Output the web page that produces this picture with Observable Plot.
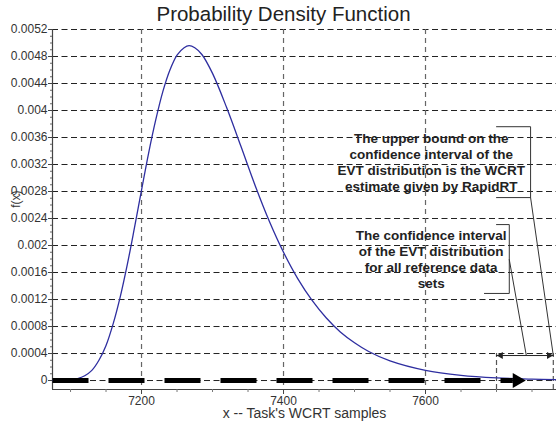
<!DOCTYPE html>
<html>
<head>
<meta charset="utf-8">
<script src="https://cdn.jsdelivr.net/npm/d3@7"></script>
<script src="https://cdn.jsdelivr.net/npm/@observablehq/plot@0.6"></script>
<style>
  html, body { margin: 0; padding: 0; background: #fff; }
  svg { display: block; }
</style>
</head>
<body>
<div id="chart"></div>
<script>
// ---- data ----
const title = "Probability Density Function";
const xLabel = "x -- Task's WCRT samples";
const yLabel = "f(x)";

const pdfX = [7075, 7090, 7100, 7110, 7120, 7130, 7140, 7150, 7160, 7170, 7180, 7190, 7200, 7210, 7220, 7230, 7240, 7250, 7260, 7267, 7275, 7285, 7300, 7320, 7340, 7360, 7380, 7400, 7420, 7440, 7460, 7480, 7500, 7520, 7550, 7600, 7650, 7700, 7750, 7785];
const pdfY = [0, 0.000003, 0.00001, 0.000028, 0.00007, 0.00015, 0.0003, 0.00052, 0.00084, 0.00124, 0.00172, 0.00226, 0.00282, 0.00337, 0.00386, 0.00428, 0.0046, 0.00482, 0.00493, 0.00496, 0.00493, 0.00483, 0.00455, 0.00404, 0.00347, 0.00289, 0.00236, 0.0019, 0.00151, 0.00119, 0.00093, 0.00072, 0.00056, 0.00043, 0.00029, 0.00015, 0.000077, 0.000039, 0.00002, 0.000012];

const xMajorTicks = [7200, 7400, 7600];
const xMinorTicks = [7100, 7150, 7250, 7300, 7350, 7450, 7500, 7550, 7650, 7700, 7750];
const yTicks = [0, 0.0004, 0.0008, 0.0012, 0.0016, 0.002, 0.0024, 0.0028, 0.0032, 0.0036, 0.004, 0.0044, 0.0048, 0.0052];
const yMinorTicks = [0.0001, 0.0002, 0.0003, 0.0005, 0.0006, 0.0007, 0.0009, 0.001, 0.0011, 0.0013, 0.0014, 0.0015, 0.0017, 0.0018, 0.0019, 0.0021, 0.0022, 0.0023, 0.0025, 0.0026, 0.0027, 0.0029, 0.003, 0.0031, 0.0033, 0.0034, 0.0035, 0.0037, 0.0038, 0.0039, 0.0041, 0.0042, 0.0043, 0.0045, 0.0046, 0.0047, 0.0049, 0.005, 0.0051];

// confidence interval (x range) and the thick sample band along y = 0
const ciX = [7700, 7780];
const ciTop = 0.0004;
const bandStart = 7074.6;
const bandEnd = 7723;
const bandArrowX = 7729;
const ciArrowY = 0.00037;

// annotations
const note1 = "The upper bound on the\nconfidence interval of the\nEVT distribution is the WCRT\nestimate given by RapidRT";
const note2 = "The confidence interval\nof the EVT distribution\nfor all reference data\nsets";
const note1Pos = [7608, 0.003237];
const note2Pos = [7608, 0.0018];
const bracket1 = [[7700, 0.00376], [7748, 0.00376], [7748, 0.00271], [7700, 0.00271]];
const leader1 = [[7748, 0.00271], [7780, 0.00037]];
const bracket2 = [[7700, 0.00231], [7718, 0.00231], [7718, 0.00129], [7683, 0.00129]];
const leader2 = [[7718, 0.00179], [7742, 0.00037]];

// ---- build ----
const xDomain = [7074.6, 7784.5];
const yDomain = [-0.000133, 0.0052];
const pdf = pdfX.map((x, i) => ({x, y: pdfY[i]}));
const font = "'Liberation Sans', Arial, sans-serif";

const chart = Plot.plot({
  width: 556,
  height: 424,
  marginLeft: 52,
  marginRight: 0,
  marginTop: 29,
  marginBottom: 35,
  style: {fontFamily: font, background: "#fff", overflow: "visible"},
  x: {domain: xDomain, axis: null},
  y: {domain: yDomain, axis: null},
  marks: [
    // grid
    Plot.gridY(yTicks, {stroke: "#222", strokeOpacity: 1, strokeDasharray: "6,3.5", strokeWidth: 1}),
    Plot.gridX(xMajorTicks, {stroke: "#666", strokeOpacity: 1, strokeDasharray: "5,4", strokeWidth: 1.2}),
    Plot.ruleX(ciX, {y1: yDomain[0], y2: ciTop, stroke: "#555", strokeDasharray: "5,3", strokeWidth: 1.2}),
    // axes lines
    Plot.ruleX([xDomain[0]], {stroke: "#444", strokeWidth: 1.2}),
    Plot.ruleY([yDomain[0]], {stroke: "#444", strokeWidth: 1.2}),
    // ticks + labels
    Plot.axisY(yTicks, {label: null, tickSize: 4, tickPadding: 1, fontSize: 12, color: "#333", stroke: "#444", tickFormat: d => String(d)}),
    Plot.axisY(yMinorTicks, {label: null, tickSize: 2, text: null, stroke: "#666"}),
    Plot.axisX(xMajorTicks, {label: null, tickSize: 5, tickPadding: 2, fontSize: 12, color: "#333", stroke: "#444", tickFormat: d => String(d)}),
    Plot.axisX(xMinorTicks, {label: null, tickSize: 3, text: null, stroke: "#777"}),
    // pdf curve
    Plot.line(pdf, {x: "x", y: "y", stroke: "#2e2ea0", strokeWidth: 1.3, curve: "catmull-rom"}),
    // thick dashed band with arrow
    Plot.line([[bandStart, 0], [bandEnd, 0]], {stroke: "#000", strokeWidth: 5, strokeDasharray: "36,20", strokeLinecap: "butt"}),
    Plot.dot([[bandArrowX, 0]], {symbol: "triangle", r: 5.6, rotate: 90, fill: "#000", stroke: "none"}),
    // double arrow of the confidence interval
    Plot.line([[ciX[0], ciArrowY], [ciX[1], ciArrowY]], {stroke: "#222", strokeWidth: 1}),
    Plot.dot([[ciX[0] + 6, ciArrowY]], {symbol: "triangle", r: 2.6, rotate: -90, fill: "#222", stroke: "none"}),
    Plot.dot([[ciX[1] - 6, ciArrowY]], {symbol: "triangle", r: 2.6, rotate: 90, fill: "#222", stroke: "none"}),
    // brackets + leader lines
    Plot.line(bracket1, {stroke: "#333", strokeWidth: 1}),
    Plot.line(leader1, {stroke: "#333", strokeWidth: 1}),
    Plot.line(bracket2, {stroke: "#333", strokeWidth: 1}),
    Plot.line(leader2, {stroke: "#333", strokeWidth: 1}),
    // notes
    Plot.text([note1], {x: () => note1Pos[0], y: () => note1Pos[1], text: d => d, fontSize: 13.5, fontWeight: "bold", fill: "#222", lineHeight: 1.2, textAnchor: "middle", lineAnchor: "middle"}),
    Plot.text([note2], {x: () => note2Pos[0], y: () => note2Pos[1], text: d => d, fontSize: 13.5, fontWeight: "bold", fill: "#222", lineHeight: 1.2, textAnchor: "middle", lineAnchor: "middle"}),
    // title, axis labels
    Plot.text([title], {frameAnchor: "top", dy: -15, dx: -21, fontSize: 20.5, fill: "#222", lineAnchor: "middle"}),
    Plot.text([xLabel], {frameAnchor: "bottom", dy: 24, fontSize: 14, fill: "#333", lineAnchor: "middle"}),
    Plot.text([yLabel], {frameAnchor: "left", dx: -36, y: () => 0.00256, rotate: -90, fontSize: 12, fill: "#333", lineAnchor: "middle"})
  ]
});
document.getElementById("chart").appendChild(chart);
</script>
</body>
</html>
